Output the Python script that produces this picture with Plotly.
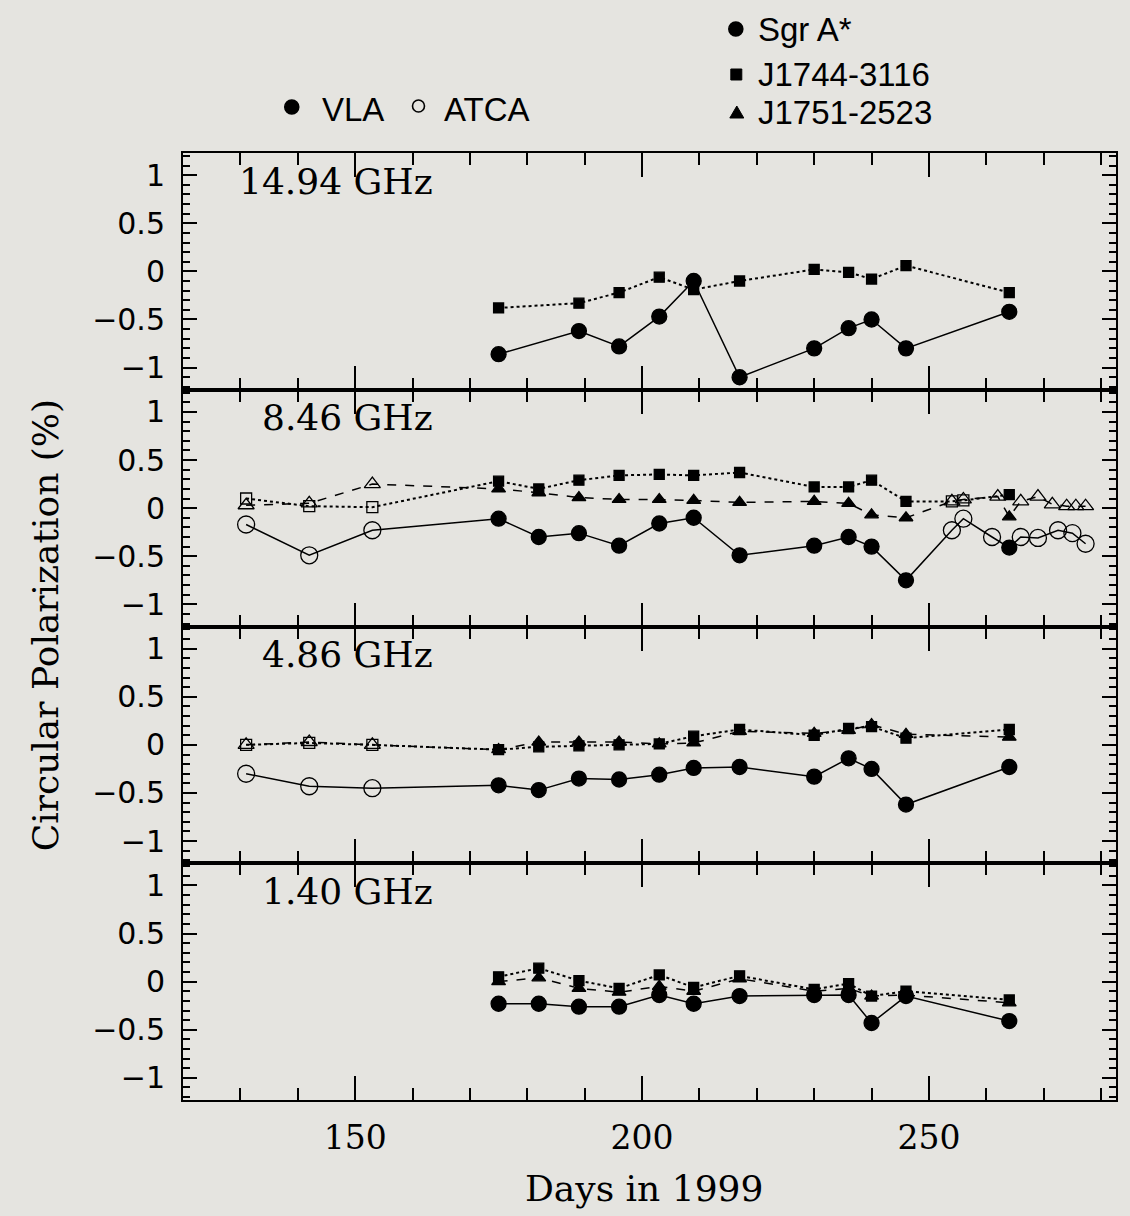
import plotly.graph_objects as go
from plotly.subplots import make_subplots

# ---------------- data ----------------
freq_labels = ["14.94 GHz", "8.46 GHz", "4.86 GHz", "1.40 GHz"]

vla_days = [175, 182, 189, 196, 203, 209, 217, 230, 236, 240, 246, 264]
vla_days_15 = [175, 189, 196, 203, 209, 217, 230, 236, 240, 246, 264]

# 14.94 GHz (VLA only)
sgr_15_vla = [-0.86, -0.62, -0.78, -0.47, -0.10, -1.10, -0.80, -0.59, -0.50, -0.80, -0.42]
j1744_15_vla = [-0.38, -0.33, -0.22, -0.06, -0.19, -0.10, 0.02, -0.01, -0.08, 0.06, -0.22]

# 8.46 GHz
sgr_8_atca_days = [131, 142, 153, 254, 256, 261, 266, 269, 272.5, 275, 277.3]
sgr_8_atca = [-0.17, -0.49, -0.23, -0.23, -0.11, -0.30, -0.30, -0.31, -0.23, -0.26, -0.37]
sgr_8_vla = [-0.11, -0.30, -0.26, -0.39, -0.16, -0.10, -0.49, -0.39, -0.30, -0.40, -0.75, -0.41]
j1744_8_atca_days = [131, 142, 153, 254, 256]
j1744_8_atca = [0.10, 0.02, 0.01, 0.07, 0.08]
j1744_8_vla = [0.28, 0.20, 0.29, 0.34, 0.35, 0.34, 0.37, 0.22, 0.22, 0.29, 0.07, 0.14]
j1751_8_atca_days = [131, 142, 153, 254, 256, 262, 266, 269, 271.5, 274, 275.6, 277.3]
j1751_8_atca = [0.03, 0.05, 0.25, 0.07, 0.09, 0.12, 0.07, 0.12, 0.04, 0.02, 0.02, 0.02]
j1751_8_vla = [0.20, 0.16, 0.11, 0.09, 0.09, 0.08, 0.06, 0.07, 0.05, -0.07, -0.10, -0.09]

# 4.86 GHz
atca_days_5 = [131, 142, 153]
sgr_5_atca = [-0.30, -0.43, -0.45]
sgr_5_vla = [-0.42, -0.47, -0.35, -0.36, -0.31, -0.24, -0.23, -0.33, -0.14, -0.25, -0.62, -0.23]
j1744_5_atca = [0.00, 0.02, 0.00]
j1744_5_vla = [-0.05, -0.02, -0.01, 0.00, 0.01, 0.09, 0.16, 0.10, 0.17, 0.19, 0.07, 0.16]
j1751_5_atca = [0.00, 0.03, 0.00]
j1751_5_vla = [-0.05, 0.03, 0.03, 0.03, 0.01, 0.02, 0.14, 0.12, 0.15, 0.21, 0.11, 0.08]

# 1.40 GHz (VLA only)
sgr_1_vla = [-0.23, -0.23, -0.26, -0.26, -0.14, -0.23, -0.15, -0.14, -0.14, -0.43, -0.15, -0.41]
j1744_1_vla = [0.05, 0.14, 0.01, -0.07, 0.07, -0.06, 0.06, -0.08, -0.02, -0.15, -0.10, -0.19]
j1751_1_vla = [0.00, 0.04, -0.07, -0.11, -0.05, -0.10, 0.03, -0.10, -0.07, -0.15, -0.14, -0.22]

y_tickvals = [-1, -0.5, 0, 0.5, 1]
y_ticktext = ["\u22121", "\u22120.5", "0", "0.5", "1"]

# ---------------- styling ----------------
BG = "#e5e4e0"
INK = "black"
L, T, W, H = 183, 153, 935, 947
FIG_W, FIG_H = 1130, 1216

STYLE = {
    "sgr": dict(sym="circle", size_f=15, size_o=17, dash="solid", width=1.5),
    "j1744": dict(sym="square", size_f=10, size_o=11, dash="dot", width=2),
    "j1751": dict(sym="triangle-up", size_f=12, size_o=14, dash="dash", width=1.5),
}

fig = make_subplots(rows=4, cols=1, shared_xaxes=True, vertical_spacing=0)


def add_series(row, key, vla_d, vla_v, atca_d=(), atca_v=()):
    st = STYLE[key]
    pts = [(d, v, False) for d, v in zip(vla_d, vla_v)]
    pts += [(d, v, True) for d, v in zip(atca_d, atca_v)]
    pts.sort(key=lambda p: p[0])
    xs = [p[0] for p in pts]
    ys = [p[1] for p in pts]
    syms = [st["sym"] + ("-open" if p[2] else "") for p in pts]
    sizes = [st["size_o"] if p[2] else st["size_f"] for p in pts]
    fig.add_trace(
        go.Scatter(
            x=xs, y=ys, mode="lines+markers",
            line=dict(color=INK, width=st["width"], dash=st["dash"]),
            marker=dict(symbol=syms, size=sizes, color=INK, opacity=1,
                        line=dict(color=INK, width=1.3)),
            showlegend=False, hoverinfo="x+y",
        ),
        row=row, col=1,
    )


# 14.94 GHz
add_series(1, "j1744", vla_days_15, j1744_15_vla)
add_series(1, "sgr", vla_days_15, sgr_15_vla)
# 8.46 GHz
add_series(2, "j1751", vla_days, j1751_8_vla, j1751_8_atca_days, j1751_8_atca)
add_series(2, "j1744", vla_days, j1744_8_vla, j1744_8_atca_days, j1744_8_atca)
add_series(2, "sgr", vla_days, sgr_8_vla, sgr_8_atca_days, sgr_8_atca)
# 4.86 GHz
add_series(3, "j1751", vla_days, j1751_5_vla, atca_days_5, j1751_5_atca)
add_series(3, "j1744", vla_days, j1744_5_vla, atca_days_5, j1744_5_atca)
add_series(3, "sgr", vla_days, sgr_5_vla, atca_days_5, sgr_5_atca)
# 1.40 GHz
add_series(4, "j1751", vla_days, j1751_1_vla)
add_series(4, "j1744", vla_days, j1744_1_vla)
add_series(4, "sgr", vla_days, sgr_1_vla)

for r in range(1, 5):
    fig.update_xaxes(
        row=r, col=1, range=[120, 282.6],
        tickmode="linear", tick0=0, dtick=50,
        ticks="inside", ticklen=24, tickwidth=2, tickcolor=INK,
        minor=dict(tickmode="linear", tick0=0, dtick=10, ticks="inside",
                   ticklen=12, tickwidth=1.5, tickcolor=INK),
        showline=True, linecolor=INK, linewidth=2, mirror="ticks",
        showgrid=False, zeroline=False,
        tickfont=dict(family="DejaVu Serif", size=33, color=INK),
        ticklabelstandoff=7,
    )
    fig.update_yaxes(
        row=r, col=1, range=[-1.23, 1.23],
        tickmode="array", tickvals=y_tickvals, ticktext=y_ticktext,
        ticks="inside", ticklen=14, tickwidth=2, tickcolor=INK,
        minor=dict(tickmode="linear", tick0=0, dtick=0.1, ticks="inside",
                   ticklen=7, tickwidth=1.5, tickcolor=INK),
        showline=True, linecolor=INK, linewidth=2, mirror="ticks",
        showgrid=False, zeroline=False,
        tickfont=dict(family="DejaVu Sans", size=30, color=INK),
        ticklabelstandoff=10,
    )


def px(xp):
    return (xp - L) / W


def py(yp):
    return (T + H - yp) / H


annotations = []
# panel labels
for i, lab in enumerate(freq_labels):
    yref = "y domain" if i == 0 else f"y{i + 1} domain"
    annotations.append(dict(
        text=lab, xref="paper", yref=yref, x=px(436), y=1 - 28 / (H / 4),
        xanchor="right", yanchor="middle", showarrow=False,
        font=dict(family="DejaVu Serif", size=36, color=INK)))

# axis titles
annotations.append(dict(
    text="Circular Polarization (%)", xref="paper", yref="paper",
    x=px(45), y=py(625), textangle=-90, showarrow=False,
    xanchor="center", yanchor="middle",
    font=dict(family="DejaVu Serif", size=36, color=INK)))
annotations.append(dict(
    text="Days in 1999", xref="paper", yref="paper",
    x=px(645), y=py(1188), showarrow=False,
    xanchor="center", yanchor="middle",
    font=dict(family="DejaVu Serif", size=36, color=INK)))

# legend texts
LEG_FONT = dict(family="Liberation Sans", size=33, color=INK)
for txt, xp, yp in [("VLA", 320, 109), ("ATCA", 443, 109),
                    ("Sgr A*", 757, 30), ("J1744-3116", 757, 74),
                    ("J1751-2523", 757, 112)]:
    annotations.append(dict(text=txt, xref="paper", yref="paper",
                            x=px(xp), y=py(yp), xanchor="left", yanchor="middle",
                            showarrow=False, font=LEG_FONT))

shapes = []


def circle(cx, cy, r, filled=True):
    shapes.append(dict(type="circle", xref="paper", yref="paper",
                       x0=px(cx - r), x1=px(cx + r), y0=py(cy + r), y1=py(cy - r),
                       fillcolor=INK if filled else "rgba(0,0,0,0)",
                       line=dict(color=INK, width=1.6)))


circle(292, 107, 7)
circle(419, 106, 6, filled=False)
circle(737, 29, 7)
# square
shapes.append(dict(type="rect", xref="paper", yref="paper",
                   x0=px(732), x1=px(743), y0=py(80), y1=py(69),
                   fillcolor=INK, line=dict(color=INK, width=1)))
# triangle
tx, ty = 738, 113
shapes.append(dict(type="path", xref="paper", yref="paper",
                   path=f"M {px(tx - 7)} {py(ty + 5)} L {px(tx + 7)} {py(ty + 5)} "
                        f"L {px(tx)} {py(ty - 7)} Z",
                   fillcolor=INK, line=dict(color=INK, width=1)))

fig.update_layout(
    width=FIG_W, height=FIG_H,
    margin=dict(l=L, r=FIG_W - L - W, t=T, b=FIG_H - T - H, pad=0),
    paper_bgcolor=BG, plot_bgcolor=BG,
    showlegend=False,
    annotations=list(fig.layout.annotations) + annotations,
    shapes=shapes,
)

fig.write_html(
    "out.html",
    config={"displayModeBar": False},
    post_script="document.body.style.margin='0px';"
                "document.body.style.overflow='hidden';"
                "document.body.style.background='" + BG + "';",
)
